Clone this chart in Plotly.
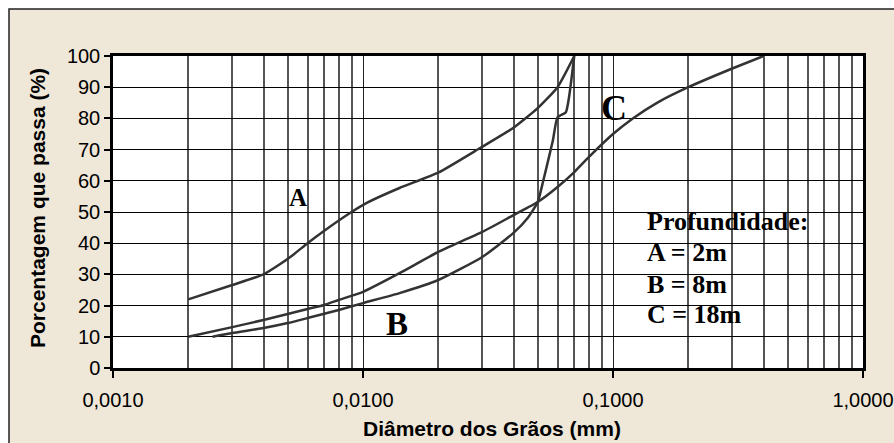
import numpy as np
import plotly.graph_objects as go

# Curve A (2 m)
a_x = [0.002, 0.003, 0.004, 0.0046, 0.0052, 0.006, 0.007, 0.009, 0.0104, 0.014,
       0.02, 0.0294, 0.04, 0.05, 0.06, 0.07]
a_y = [22, 26.6, 30, 33, 36, 40, 44, 50, 53, 57.7, 62.6, 70.5, 77, 83.3, 90, 100]

# Curve B (8 m)
b_x = [0.0025, 0.003, 0.004, 0.005, 0.006, 0.008, 0.01, 0.014, 0.02, 0.03, 0.04,
       0.0455, 0.05, 0.0526, 0.0551, 0.0575, 0.06, 0.0648, 0.0667, 0.07]
b_y = [10, 11.2, 12.8, 14.4, 16, 18.6, 20.8, 24, 28.2, 35.6, 43.3,
       48, 53.2, 60, 66.7, 73, 80.4, 82, 86.8, 100]

# Curve C (18 m)
c_x = [0.002, 0.003, 0.004, 0.005, 0.006, 0.007, 0.008, 0.01, 0.014, 0.02, 0.03,
       0.04, 0.05, 0.06, 0.07, 0.08, 0.1, 0.12, 0.15, 0.2, 0.3, 0.4]
c_y = [10, 13.1, 15.4, 17.3, 18.9, 20.2, 21.8, 24.4, 30.4, 37.2, 43.6,
       49, 53.2, 58, 62.8, 67.6, 75, 80, 85, 90, 96, 100]

x_tickvals = [0.001, 0.01, 0.1, 1]
x_ticktext = ["0,0010", "0,0100", "0,1000", "1,0000"]
minor_vals = [m * 10.0 ** e for e in (-3, -2, -1) for m in range(2, 10)]

legend_lines = ["Profundidade:", "A = 2m", "B = 8m", "C = 18m"]
legend_y = [46.8, 36.9, 26.9, 17.0]

curve_labels = [("A", 0.0055, 54.5, 25), ("B", 0.01368, 14.1, 33), ("C", 0.1009, 83.3, 36)]

LINE = "#333333"
BEIGE = "#EFE7D8"

fig = go.Figure()
for xs, ys in [(a_x, a_y), (b_x, b_y), (c_x, c_y)]:
    fig.add_trace(go.Scatter(x=xs, y=ys, mode="lines",
                             line=dict(color=LINE, width=2.5, shape="spline", smoothing=0.5),
                             showlegend=False, hoverinfo="skip"))

L, R, T, B = 113, 31, 56, 75
W, H = 894, 443
pw, ph = W - L - R, H - T - B

def px(xp):
    return (xp - L) / pw

def py(yp):
    return (H - B - yp) / ph

shapes = [
    dict(type="rect", xref="paper", yref="paper", layer="below",
         x0=px(9), x1=px(905), y0=py(455), y1=py(9),
         fillcolor=BEIGE, line=dict(color="#222222", width=1.5)),
    dict(type="rect", xref="paper", yref="paper", layer="below",
         x0=0, x1=1, y0=0, y1=1, fillcolor="white", line=dict(width=0)),
]

annotations = []
for text, xv, yv, size in curve_labels:
    annotations.append(dict(x=np.log10(xv), y=yv, xref="x", yref="y", text=f"<b>{text}</b>",
                            showarrow=False, xanchor="center", yanchor="middle",
                            font=dict(family="Liberation Serif", size=size, color="black")))
for text, yv in zip(legend_lines, legend_y):
    annotations.append(dict(x=np.log10(0.134), y=yv, xref="x", yref="y", text=f"<b>{text}</b>",
                            showarrow=False, xanchor="left", yanchor="middle",
                            font=dict(family="Liberation Serif", size=26, color="black")))
annotations.append(dict(x=0.5 + (492 - (L + pw / 2)) / pw, y=py(428), xref="paper", yref="paper",
                        text="<b>Diâmetro dos Grãos (mm)</b>", showarrow=False,
                        xanchor="center", yanchor="middle",
                        font=dict(family="Liberation Sans", size=21, color="black")))
annotations.append(dict(x=px(37), y=py(208), xref="paper", yref="paper",
                        text="<b>Porcentagem que passa (%)</b>", showarrow=False, textangle=-90,
                        xanchor="center", yanchor="middle",
                        font=dict(family="Liberation Sans", size=21, color="black")))

fig.update_layout(
    width=W, height=H,
    margin=dict(l=L, r=R, t=T, b=B, autoexpand=False),
    paper_bgcolor="white", plot_bgcolor="white",
    shapes=shapes, annotations=annotations,
    font=dict(family="Liberation Sans", size=20, color="black"),
)
fig.update_xaxes(type="log", range=[-3, 0], tickvals=x_tickvals, ticktext=x_ticktext,
                 automargin=False,
                 showgrid=True, gridcolor="#222222", gridwidth=1,
                 minor=dict(tickvals=minor_vals, showgrid=True, gridcolor="#555555", gridwidth=1.5,
                            ticks=""),
                 ticks="outside", ticklen=7, tickwidth=1.5, tickcolor="black",
                 showline=True, linecolor="black", linewidth=2.5, mirror=True,
                 zeroline=False, tickfont=dict(size=20), ticklabelstandoff=5)
fig.update_yaxes(range=[0, 100], dtick=10, tick0=0, automargin=False,
                 showgrid=True, gridcolor="black", gridwidth=1,
                 ticks="outside", ticklen=6, tickwidth=1.5, tickcolor="black",
                 showline=True, linecolor="black", linewidth=2.5, mirror=True,
                 zeroline=False, tickfont=dict(size=20))

fig.write_html("out.html", config={"displayModeBar": False},
               post_script="document.body.style.margin='0';document.body.style.overflow='hidden';")
